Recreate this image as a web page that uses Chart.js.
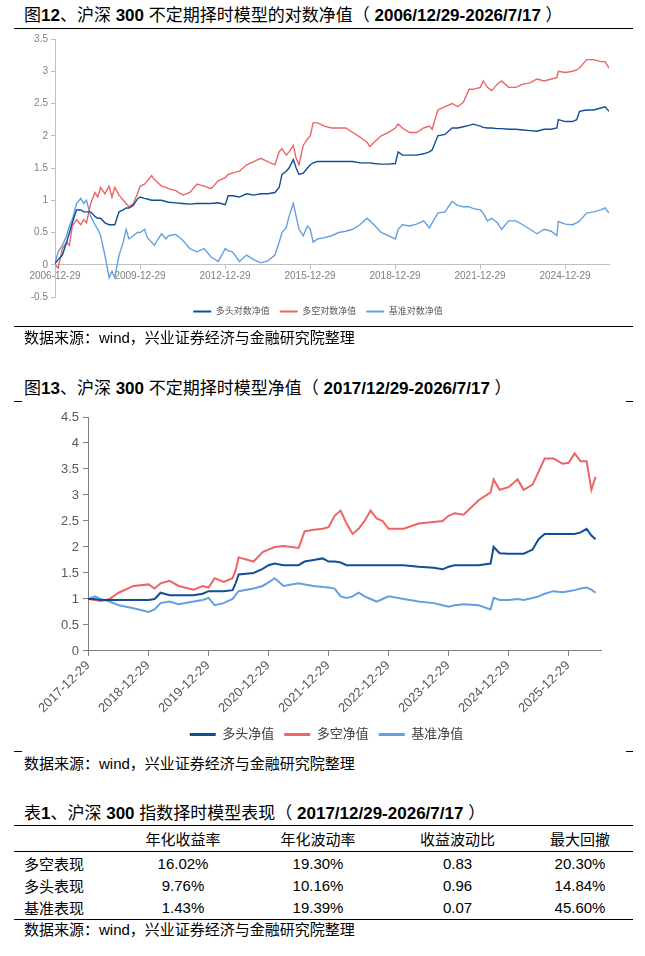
<!DOCTYPE html>
<html lang="zh-CN">
<head>
    <meta charset="UTF-8">
    <title>沪深300 不定期择时模型</title>
    <style>
        * {
            margin: 0;
            padding: 0;
            box-sizing: border-box;
        }

        body {
            width: 645px;
            height: 956px;
            position: relative;
            background: #fff;
            color: #000;
            font-family: "Liberation Sans", Arial, "Noto Sans CJK SC", sans-serif;
            overflow: hidden;
        }

        .title {
            position: absolute;
            left: 24px;
            font-size: 17px;
            font-weight: normal;
            line-height: 20px;
            white-space: nowrap;
        }

        .title b {
            font-weight: bold;
        }

        .source {
            position: absolute;
            left: 24px;
            font-size: 15px;
            line-height: 18px;
            white-space: nowrap;
        }

        .rule {
            position: absolute;
            height: 1px;
            background: #000;
        }

        canvas {
            position: absolute;
            left: 0;
        }

        table {
            position: absolute;
            left: 14px;
            top: 825px;
            width: 619px;
            border-collapse: collapse;
            font-size: 15px;
            border-top: 1.5px solid #000;
            border-bottom: 1.5px solid #000;
        }

        th, td {
            font-weight: normal;
            text-align: center;
            padding: 0;
            white-space: nowrap;
        }

        thead tr {
            height: 26px;
            border-bottom: 1px solid #000;
        }

        tbody tr {
            height: 22.5px;
        }

        td.name {
            text-align: left;
            padding-left: 10px;
        }
    </style>
</head>
<body>
    <div class="title" style="top:6px">图<b>12</b>、沪深 <b>300</b> 不定期择时模型的对数净值（ <b>2006/12/29-2026/7/17</b> ）</div>
    <div class="rule" style="left:14px; width:619px; top:28px"></div>
    <canvas id="logChart" width="645" height="298" style="top:30px"></canvas>
    <div class="rule" style="left:14px; width:619px; top:326px"></div>
    <div class="source" style="top:329px">数据来源：wind，兴业证券经济与金融研究院整理</div>

    <div class="title" style="top:379px">图<b>13</b>、沪深 <b>300</b> 不定期择时模型净值（ <b>2017/12/29-2026/7/17</b> ）</div>
    <div class="rule" style="left:14px; width:8px; top:401px"></div>
    <div class="rule" style="left:626px; width:7px; top:401px"></div>
    <canvas id="navChart" width="645" height="346" style="top:405px"></canvas>
    <div class="rule" style="left:14px; width:8px; top:751px"></div>
    <div class="rule" style="left:626px; width:7px; top:751px"></div>
    <div class="source" style="top:755px">数据来源：wind，兴业证券经济与金融研究院整理</div>

    <div class="title" style="top:804px">表<b>1</b>、沪深 <b>300</b> 指数择时模型表现（ <b>2017/12/29-2026/7/17</b> ）</div>
    <table>
        <colgroup>
            <col style="width:104px">
            <col style="width:130px">
            <col style="width:140px">
            <col style="width:139px">
            <col style="width:106px">
        </colgroup>
        <thead>
            <tr><th></th><th>年化收益率</th><th>年化波动率</th><th>收益波动比</th><th>最大回撤</th></tr>
        </thead>
        <tbody>
            <tr><td class="name">多空表现</td><td>16.02%</td><td>19.30%</td><td>0.83</td><td>20.30%</td></tr>
            <tr><td class="name">多头表现</td><td>9.76%</td><td>10.16%</td><td>0.96</td><td>14.84%</td></tr>
            <tr><td class="name">基准表现</td><td>1.43%</td><td>19.39%</td><td>0.07</td><td>45.60%</td></tr>
        </tbody>
    </table>
    <div class="source" style="top:921px">数据来源：wind，兴业证券经济与金融研究院整理</div>

    <script src="https://cdn.jsdelivr.net/npm/chart.js@4.4.0/dist/chart.umd.min.js"></script>
    <script>
        // 图12 data (log NAV), dates as decimal years
        const dates1 = [
            2006.99, 2007.1, 2007.25, 2007.4, 2007.5, 2007.6, 2007.75, 2007.9, 2008.0, 2008.1,
            2008.25, 2008.4, 2008.5, 2008.6, 2008.75, 2008.9, 2009.0, 2009.1, 2009.25, 2009.4,
            2009.5, 2009.6, 2009.75, 2009.9, 2010.0, 2010.15, 2010.25, 2010.4, 2010.5, 2010.6,
            2010.75, 2010.9, 2011.0, 2011.25, 2011.5, 2011.75, 2012.0, 2012.25, 2012.5, 2012.75,
            2013.0, 2013.1, 2013.25, 2013.5, 2013.75, 2014.0, 2014.25, 2014.5, 2014.75, 2014.9,
            2015.0, 2015.15, 2015.25, 2015.4, 2015.5, 2015.6, 2015.75, 2015.9, 2016.0, 2016.1,
            2016.25, 2016.5, 2016.75, 2017.0, 2017.25, 2017.5, 2017.75, 2018.0, 2018.1, 2018.25,
            2018.5, 2018.75, 2019.0, 2019.1, 2019.25, 2019.5, 2019.75, 2020.0, 2020.2, 2020.3,
            2020.5, 2020.75, 2021.0, 2021.2, 2021.4, 2021.6, 2021.75, 2022.0, 2022.1, 2022.25,
            2022.4, 2022.6, 2022.75, 2023.0, 2023.25, 2023.5, 2023.75, 2024.0, 2024.25, 2024.5,
            2024.7, 2024.75, 2025.0, 2025.25, 2025.4, 2025.5, 2025.75, 2026.0, 2026.25, 2026.4,
            2026.54
        ];
        const long1 = [
            0.02, 0.08, 0.15, 0.35, 0.5, 0.65, 0.85, 0.85, 0.82, 0.82,
            0.82, 0.75, 0.72, 0.72, 0.65, 0.62, 0.62, 0.62, 0.82, 0.85,
            0.88, 0.88, 0.92, 1.02, 1.05, 1.03, 1.02, 1.0, 1.0, 1.0,
            1.0, 0.98, 0.97, 0.96, 0.95, 0.94, 0.95, 0.95, 0.95, 0.96,
            0.93, 1.07, 1.07, 1.05, 1.1, 1.08, 1.1, 1.1, 1.12, 1.2,
            1.4, 1.45, 1.5, 1.63, 1.5, 1.4, 1.42, 1.5, 1.55, 1.58,
            1.6, 1.6, 1.6, 1.6, 1.6, 1.6, 1.58, 1.58, 1.58, 1.57,
            1.56, 1.56, 1.57, 1.75, 1.7, 1.7, 1.7, 1.72, 1.75, 1.78,
            2.0, 2.02, 2.12, 2.12, 2.14, 2.16, 2.18, 2.15, 2.13, 2.12,
            2.12, 2.11, 2.11, 2.1, 2.1, 2.09, 2.08, 2.07, 2.1, 2.1,
            2.12, 2.25, 2.22, 2.22, 2.25, 2.38, 2.4, 2.4, 2.43, 2.45,
            2.38
        ];
        const longShort1 = [
            0.0, -0.05, 0.25, 0.35, 0.3, 0.6, 0.7, 0.62, 0.7, 0.65,
            0.95, 1.12, 1.05, 1.2, 1.1, 1.22, 1.05, 1.2, 1.08, 1.0,
            0.95, 0.9, 0.95, 1.1, 1.22, 1.25, 1.3, 1.38, 1.32, 1.28,
            1.22, 1.2, 1.18, 1.15, 1.08, 1.12, 1.25, 1.22, 1.18, 1.3,
            1.35, 1.4, 1.42, 1.45, 1.55, 1.6, 1.65, 1.6, 1.55, 1.75,
            1.8, 1.7, 1.75, 1.85, 1.65, 1.55, 1.85, 1.95, 2.0, 2.2,
            2.2, 2.15, 2.12, 2.12, 2.12, 2.05, 1.98, 1.9, 1.83, 1.9,
            2.0, 2.05, 2.12, 2.18, 2.12, 2.05, 2.05, 2.12, 2.15, 2.1,
            2.4, 2.45, 2.5, 2.45, 2.52, 2.72, 2.72, 2.75, 2.85, 2.75,
            2.7, 2.8, 2.85, 2.75, 2.75, 2.8, 2.82, 2.88, 2.85, 2.88,
            2.9, 3.0, 2.98, 3.0, 3.02, 3.05, 3.18, 3.18, 3.15, 3.15,
            3.05
        ];
        const bench1 = [
            0.02, 0.2, 0.3, 0.45, 0.6, 0.7, 0.95, 1.03, 0.95, 1.0,
            0.75, 0.62, 0.55, 0.45, 0.15, -0.2, -0.1, -0.2, 0.15, 0.35,
            0.55, 0.4, 0.45, 0.5, 0.5, 0.55, 0.42, 0.35, 0.3, 0.38,
            0.48, 0.4, 0.45, 0.47, 0.38, 0.25, 0.2, 0.25, 0.12, 0.05,
            0.25, 0.22, 0.2, 0.05, 0.15, 0.08, 0.03, 0.06, 0.15, 0.35,
            0.5, 0.58, 0.75, 0.95, 0.75, 0.55, 0.45, 0.6, 0.55, 0.35,
            0.4, 0.42, 0.45, 0.5, 0.52, 0.55, 0.62, 0.72, 0.68, 0.62,
            0.5, 0.45, 0.4, 0.55, 0.62, 0.6, 0.63, 0.68, 0.57, 0.65,
            0.8, 0.82, 0.98, 0.92, 0.9, 0.9, 0.87, 0.85, 0.8, 0.68,
            0.72, 0.65, 0.55, 0.68, 0.68, 0.62, 0.55, 0.48, 0.55, 0.52,
            0.45, 0.67, 0.63, 0.62, 0.65, 0.68, 0.8, 0.82, 0.85, 0.88,
            0.8
        ];
        const tickYears1 = [2006.99, 2009.99, 2012.99, 2015.99, 2018.99, 2021.99, 2024.99];
        const tickLabels1 = ['2006-12-29', '2009-12-29', '2012-12-29', '2015-12-29', '2018-12-29', '2021-12-29', '2024-12-29'];

        // 图13 data (NAV)
        const dates2 = [
            2017.99, 2018.1, 2018.2, 2018.35, 2018.5, 2018.75, 2019.0, 2019.1, 2019.2, 2019.35,
            2019.5, 2019.75, 2019.9, 2020.0, 2020.1, 2020.25, 2020.4, 2020.45, 2020.5, 2020.75,
            2020.9, 2021.0, 2021.1, 2021.25, 2021.5, 2021.6, 2021.75, 2021.9, 2022.0, 2022.1,
            2022.2, 2022.3, 2022.4, 2022.5, 2022.6, 2022.7, 2022.8, 2022.9, 2023.0, 2023.25,
            2023.5, 2023.75, 2023.9, 2024.0, 2024.1, 2024.25, 2024.5, 2024.7, 2024.75, 2024.85,
            2025.0, 2025.15, 2025.25, 2025.4, 2025.5, 2025.6, 2025.75, 2025.9, 2026.0, 2026.1,
            2026.2, 2026.3, 2026.38, 2026.45
        ];
        const long2 = [
            1.0, 1.0, 0.98, 0.98, 0.98, 0.98, 0.98, 1.0, 1.12, 1.07,
            1.07, 1.07, 1.1, 1.15, 1.15, 1.15, 1.17, 1.3, 1.47, 1.5,
            1.58, 1.65, 1.68, 1.65, 1.65, 1.72, 1.75, 1.78, 1.72, 1.72,
            1.7, 1.65, 1.65, 1.65, 1.65, 1.65, 1.65, 1.65, 1.65, 1.65,
            1.62, 1.6, 1.57, 1.62, 1.65, 1.65, 1.65, 1.68, 2.0, 1.88,
            1.87, 1.87, 1.87, 1.95, 2.15, 2.25, 2.25, 2.25, 2.25, 2.25,
            2.28, 2.35, 2.22, 2.15
        ];
        const longShort2 = [
            1.0, 0.98, 0.96, 1.0, 1.12, 1.25, 1.28, 1.2, 1.3, 1.35,
            1.25, 1.18, 1.25, 1.22, 1.4, 1.33, 1.4, 1.55, 1.8, 1.72,
            1.9, 1.95, 2.0, 2.02, 1.98, 2.3, 2.33, 2.35, 2.38, 2.6,
            2.7, 2.45, 2.25, 2.35, 2.5, 2.7, 2.55, 2.5, 2.35, 2.35,
            2.45, 2.48, 2.5, 2.6, 2.65, 2.62, 2.9, 3.05, 3.3, 3.1,
            3.15, 3.3, 3.1, 3.2, 3.45, 3.7, 3.7, 3.6, 3.62, 3.8,
            3.65, 3.65, 3.1, 3.35
        ];
        const bench2 = [
            1.0, 1.05, 1.0, 0.95, 0.88, 0.82, 0.75, 0.8, 0.92, 0.95,
            0.9, 0.95, 0.98, 1.02, 0.88, 0.92, 1.0, 1.08, 1.15, 1.2,
            1.25, 1.32, 1.4, 1.25, 1.3, 1.28, 1.25, 1.23, 1.22, 1.2,
            1.05, 1.02, 1.05, 1.12, 1.05, 1.0, 0.95, 1.0, 1.05, 1.0,
            0.95, 0.92, 0.88, 0.85, 0.88, 0.9, 0.88, 0.8, 1.02, 0.98,
            0.98, 1.0, 0.98, 1.02, 1.05, 1.1, 1.15, 1.13, 1.15, 1.17,
            1.2, 1.22, 1.18, 1.12
        ];
        const tickYears2 = [2017.99, 2018.99, 2019.99, 2020.99, 2021.99, 2022.99, 2023.99, 2024.99, 2025.99];
        const tickLabels2 = ['2017-12-29', '2018-12-29', '2019-12-29', '2020-12-29', '2021-12-29', '2022-12-29', '2023-12-29', '2024-12-29', '2025-12-29'];

        const DARK_BLUE = '#114e98';
        const RED = '#ee6464';
        const LIGHT_BLUE = '#63a0e1';

        Chart.defaults.font.family = '"Liberation Sans", Arial, "Noto Sans CJK SC", sans-serif';
        Chart.defaults.animation = false;

        function toPoints(xs, ys) {
            return xs.map((x, i) => ({ x: x, y: ys[i] }));
        }

        function lineSet(label, xs, ys, color, width) {
            return {
                label: label,
                data: toPoints(xs, ys),
                borderColor: color,
                backgroundColor: color,
                borderWidth: width,
                pointRadius: 0,
                tension: 0
            };
        }

        // "3" not "3.0", like the original axis
        const plainNum = v => String(Math.round(v * 10) / 10);

        // legend boxes drawn as flat bars, like line keys
        function flatLabels(chart) {
            return Chart.defaults.plugins.legend.labels.generateLabels(chart)
                .map(l => Object.assign(l, { lineWidth: 0, fillStyle: l.strokeStyle }));
        }

        // Chart 1: log NAV
        // left padding + narrower y box keeps the plot at x=55 while the legend sits near page centre
        // (y labels get clipped to the y box, so it must stay wide enough for "-0.5")
        new Chart(document.getElementById('logChart'), {
            type: 'line',
            data: {
                datasets: [
                    lineSet('多头对数净值', dates1, long1, DARK_BLUE, 1.4),
                    lineSet('多空对数净值', dates1, longShort1, RED, 1.4),
                    lineSet('基准对数净值', dates1, bench1, LIGHT_BLUE, 1.4)
                ]
            },
            options: {
                responsive: false,
                layout: { padding: { top: 8, right: 36, bottom: 2, left: 27 } },
                plugins: {
                    tooltip: { enabled: false },
                    legend: {
                        position: 'bottom',
                        labels: {
                            boxWidth: 18,
                            boxHeight: 2,
                            padding: 10,
                            color: '#595959',
                            font: { size: 9 },
                            generateLabels: flatLabels
                        }
                    }
                },
                scales: {
                    x: {
                        type: 'linear',
                        position: { y: 0 },
                        min: 2006.99,
                        max: 2026.54,
                        afterBuildTicks: s => { s.ticks = tickYears1.map(v => ({ value: v })); },
                        ticks: {
                            maxRotation: 0,
                            autoSkip: false,
                            color: '#808080',
                            font: { size: 10 },
                            padding: 1,
                            callback: (v, i) => tickLabels1[i]
                        },
                        grid: { drawOnChartArea: false, tickLength: 4, color: '#bfbfbf' },
                        border: { color: '#bfbfbf' }
                    },
                    y: {
                        min: -0.5,
                        max: 3.5,
                        afterFit: s => { s.width = 28; },
                        ticks: { stepSize: 0.5, color: '#808080', font: { size: 10 }, padding: 3, callback: plainNum },
                        grid: { drawOnChartArea: false, tickLength: 4, color: '#bfbfbf' },
                        border: { color: '#bfbfbf' }
                    }
                }
            }
        });

        // Chart 2: NAV
        new Chart(document.getElementById('navChart'), {
            type: 'line',
            data: {
                datasets: [
                    lineSet('多头净值', dates2, long2, DARK_BLUE, 2),
                    lineSet('多空净值', dates2, longShort2, RED, 2),
                    lineSet('基准净值', dates2, bench2, LIGHT_BLUE, 2)
                ]
            },
            options: {
                responsive: false,
                layout: { padding: { top: 12, right: 44, bottom: 0, left: 52 } },
                plugins: {
                    tooltip: { enabled: false },
                    legend: {
                        position: 'bottom',
                        labels: {
                            boxWidth: 26,
                            boxHeight: 3,
                            padding: 10,
                            color: '#404040',
                            font: { size: 13 },
                            generateLabels: flatLabels
                        }
                    }
                },
                scales: {
                    x: {
                        type: 'linear',
                        min: 2017.99,
                        max: 2026.54,
                        afterBuildTicks: s => { s.ticks = tickYears2.map(v => ({ value: v })); },
                        ticks: {
                            minRotation: 45,
                            maxRotation: 45,
                            autoSkip: false,
                            color: '#595959',
                            font: { size: 13 },
                            padding: 2,
                            callback: (v, i) => tickLabels2[i]
                        },
                        grid: { drawOnChartArea: false, tickLength: 5, color: '#808080' },
                        border: { color: '#808080' }
                    },
                    y: {
                        min: 0,
                        max: 4.5,
                        afterFit: s => { s.width = 36; },
                        ticks: { stepSize: 0.5, color: '#595959', font: { size: 13 }, padding: 4, callback: plainNum },
                        grid: { drawOnChartArea: false, tickLength: 5, color: '#808080' },
                        border: { color: '#808080' }
                    }
                }
            }
        });
    </script>
</body>
</html>
